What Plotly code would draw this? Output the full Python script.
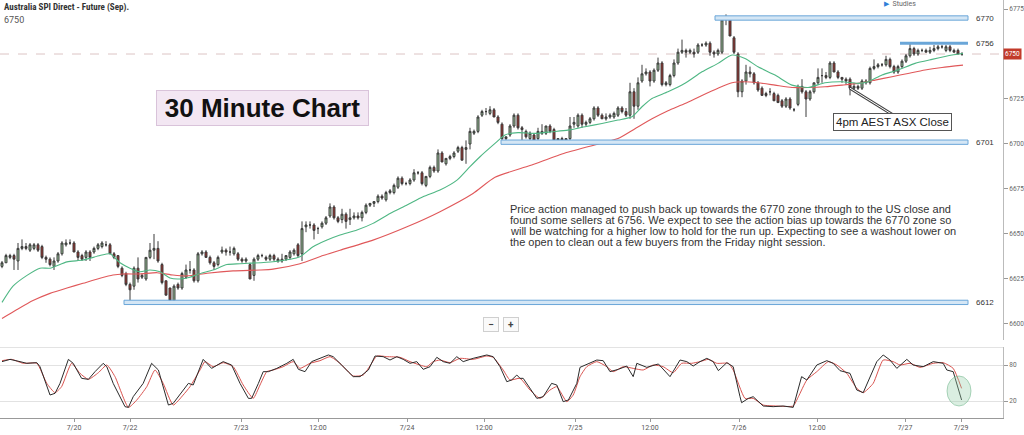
import plotly.graph_objects as go

# ---------------- DATA ----------------
candle_open = [
 6632,6634,6637,6638,6635,6642,6643,6641,6642,6644,6643,6637,6636,6632,6635,6639,6644,6645,6645,6640,
 6638,6637,6640,6640,6642,6643,6644,6644,6639,6638,6631,6628,6622,6621,6631,6626,6625,6637,6641,6642,
 6633,6624,6620,6613,6622,6620,6626,6630,6630,6624,6639,6640,6637,6634,6633,6640,6641,6640,6639,6639,
 6636,6635,6633,6627,6636,6638,6637,6636,6638,6636,6635,6636,6637,6639,6644,6639,6654,6655,6655,6653,
 6654,6656,6660,6665,6659,6658,6661,6658,6659,6660,6659,6662,6666,6667,6668,6671,6669,6673,6673,6676,
 6681,6678,6678,6680,6684,6684,6677,6682,6687,6685,6695,6689,6692,6693,6696,6698,6697,6700,6706,6707,
 6716,6718,6717,6719,6715,6711,6703,6705,6710,6716,6709,6707,6703,6705,6703,6707,6706,6710,6708,6702,
 6703,6702,6703,6711,6710,6716,6711,6712,6714,6720,6716,6714,6715,6715,6716,6720,6718,6716,6729,6721,
 6735,6739,6740,6735,6741,6745,6733,6733,6738,6745,6751,6752,6751,6751,6751,6755,6755,6756,6751,6750,
 6751,6769,6770,6759,6750,6729,6735,6740,6739,6734,6731,6728,6729,6728,6727,6724,6721,6725,6719,6722,
 6732,6729,6725,6729,6734,6738,6738,6737,6745,6740,6737,6736,6736,6731,6732,6731,6735,6734,6742,6743,
 6744,6744,6747,6743,6740,6743,6746,6749,6753,6750,6752,6752,6751,6752,6753,6754,6752,6754,6752,6752,
 6750]
candle_high = [
 6635,6639,6639,6639,6645,6647,6645,6645,6645,6645,6644,6638,6637,6637,6640,6646,6647,6647,6646,6641,
 6639,6641,6641,6643,6645,6646,6646,6645,6640,6638,6632,6629,6623,6632,6637,6628,6637,6645,6650,6646,
 6634,6624,6620,6622,6623,6629,6633,6635,6631,6640,6641,6641,6638,6635,6638,6643,6642,6643,6643,6640,
 6637,6637,6634,6637,6639,6639,6638,6639,6639,6637,6639,6638,6641,6642,6645,6657,6657,6657,6656,6654,
 6657,6660,6667,6666,6660,6664,6662,6664,6662,6662,6663,6667,6667,6668,6672,6672,6674,6675,6678,6682,
 6682,6679,6681,6686,6685,6685,6682,6688,6688,6697,6696,6692,6694,6696,6699,6699,6702,6709,6708,6716,
 6719,6720,6721,6720,6716,6712,6704,6711,6717,6717,6710,6708,6707,6706,6709,6711,6710,6711,6709,6703,
 6704,6703,6715,6715,6717,6717,6713,6715,6721,6721,6717,6717,6717,6718,6721,6721,6720,6734,6731,6737,
 6744,6742,6741,6742,6748,6746,6735,6739,6747,6753,6758,6753,6753,6753,6756,6756,6757,6757,6752,6753,
 6771,6772,6771,6760,6751,6736,6744,6743,6740,6735,6732,6729,6731,6729,6728,6725,6726,6726,6720,6733,
 6736,6730,6730,6734,6742,6742,6740,6746,6746,6741,6737,6737,6737,6734,6733,6736,6736,6743,6747,6745,
 6745,6749,6748,6744,6744,6747,6750,6756,6754,6753,6753,6753,6754,6755,6755,6755,6755,6755,6753,6753,
 6751]
candle_low = [
 6631,6634,6636,6630,6630,6641,6641,6640,6641,6640,6636,6634,6632,6630,6634,6638,6643,6644,6640,6635,
 6635,6635,6635,6639,6641,6642,6643,6639,6636,6631,6626,6621,6613,6619,6623,6625,6624,6636,6636,6634,
 6622,6616,6612,6612,6619,6619,6625,6628,6623,6623,6638,6637,6633,6630,6632,6639,6638,6638,6638,6635,
 6634,6634,6625,6624,6635,6637,6635,6635,6635,6634,6634,6635,6636,6638,6637,6635,6651,6653,6647,6650,
 6653,6655,6659,6658,6656,6656,6653,6655,6658,6658,6657,6661,6665,6665,6667,6669,6668,6672,6672,6675,
 6677,6677,6677,6679,6683,6677,6676,6681,6684,6684,6690,6688,6691,6692,6695,6691,6689,6697,6705,6706,
 6715,6716,6716,6715,6711,6702,6702,6704,6709,6708,6700,6703,6701,6701,6702,6705,6705,6706,6702,6701,
 6701,6701,6702,6709,6709,6709,6710,6711,6713,6715,6714,6713,6714,6714,6715,6717,6715,6714,6714,6719,
 6734,6738,6732,6734,6740,6732,6732,6732,6737,6744,6750,6748,6750,6748,6750,6754,6754,6749,6748,6749,
 6750,6766,6760,6750,6726,6726,6733,6737,6733,6729,6727,6726,6727,6724,6723,6720,6720,6719,6718,6721,
 6728,6715,6724,6728,6733,6734,6736,6736,6740,6736,6734,6733,6727,6730,6730,6730,6733,6733,6741,6742,
 6743,6743,6742,6739,6739,6742,6745,6748,6749,6749,6751,6751,6750,6751,6752,6753,6751,6751,6751,6750,
 6749]
candle_close = [
 6634,6638,6638,6636,6642,6643,6642,6644,6644,6641,6637,6636,6633,6635,6639,6645,6645,6645,6640,6637,
 6636,6640,6637,6642,6644,6645,6644,6639,6637,6632,6627,6622,6619,6631,6625,6627,6637,6641,6642,6635,
 6623,6616,6613,6621,6620,6628,6630,6630,6624,6639,6640,6637,6634,6632,6637,6641,6640,6640,6642,6636,
 6635,6636,6625,6636,6638,6638,6636,6638,6636,6635,6636,6638,6640,6641,6638,6653,6655,6655,6652,6653,
 6656,6659,6665,6659,6657,6661,6657,6659,6660,6659,6662,6666,6667,6668,6671,6670,6673,6674,6677,6681,
 6678,6678,6680,6684,6684,6678,6682,6687,6685,6695,6690,6692,6693,6695,6698,6691,6698,6707,6707,6715,
 6718,6718,6719,6715,6712,6703,6704,6710,6716,6709,6708,6704,6706,6702,6707,6706,6710,6707,6702,6703,
 6702,6703,6710,6712,6716,6711,6712,6714,6720,6716,6714,6715,6716,6717,6720,6718,6716,6729,6721,6734,
 6739,6740,6735,6741,6745,6733,6734,6738,6745,6751,6752,6751,6752,6750,6755,6755,6756,6751,6750,6752,
 6769,6770,6760,6751,6729,6735,6740,6739,6734,6730,6727,6727,6729,6724,6723,6721,6725,6720,6719,6732,
 6729,6725,6729,6734,6737,6738,6737,6745,6740,6737,6736,6735,6731,6732,6731,6735,6734,6742,6743,6744,
 6744,6747,6743,6740,6743,6746,6749,6753,6750,6752,6752,6751,6752,6753,6754,6754,6754,6752,6751,6750,
 6750]

# moving averages (bar index, price)
ma_fast_idx = [0,2.75,6.25,9.5,12,16.25,20.25,24.5,27,29.5,32,34.5,37,39.5,42,44.5,47,49.5,52.75,56.25,
               59.5,67.75,74.5,77.75,81.25,84.5,88.75,92.75,97,101.25,105.25,109.5,113.75,117,119.5,123.25,
               125.75,129,133.25,137.5,141.5,145.75,150,154,157.5,160,162.5,166.5,170.75,175,179,182.5,
               185.75,189,193.25,197.5,201.5,205.75,210,214,216.5,220,224,228.25,232.5,237.5,240.25]
ma_fast_val = [6612,6621,6627,6631,6631,6634.5,6635.5,6638,6639,6634,6631,6629,6630,6629,6625.5,6625,6626,
               6628,6630,6633,6633.5,6634.6,6637.4,6642.9,6646.6,6649.4,6652.2,6655.9,6661.4,6666.1,6670.7,
               6674.4,6679.9,6687.4,6692.9,6700.3,6705,6706.3,6705.9,6706.8,6707.7,6709.6,6711.4,6713.3,
               6715.1,6720.7,6725.3,6729,6733.7,6740.1,6744.8,6749.4,6747.5,6742.9,6738.3,6732.7,6731.4,
               6734,6734.6,6733.7,6734.6,6738.3,6741.1,6744.8,6747,6749.4,6750.3]
ma_slow_idx = [0,3.75,7.75,12,16.25,20.25,24.5,27.75,30.25,34.5,38.75,42.75,46.25,51.25,57.75,64.5,67.75,
               74.5,80.25,84.5,92.75,101.25,109.5,117.75,123.25,132,140.75,150,154,158.25,162.5,166.5,
               170.75,175,179,182.5,185.75,189,193.25,197.5,201.5,205.75,210,214,218.25,222.5,226.5,
               230.75,235,240.25]
ma_slow_val = [6603,6608,6613,6617,6620,6622.6,6625.4,6627.2,6627.8,6627.8,6628.5,6627.2,6626.7,6628.2,
               6629.5,6630,6630.5,6633.5,6638,6641,6646.6,6654,6662.4,6672.5,6681.5,6688,6695,6700.5,
               6703,6708.5,6714,6718.5,6722.5,6727,6731,6734,6734.6,6734,6732.7,6731.4,6731.4,6731.8,
               6732.7,6733.7,6735.5,6737.4,6739.2,6741.1,6742.5,6743.8]

# stochastic oscillator (bar index, value)
stoch_k_idx = [0,2,4.5,6.2,8.7,9.5,12,13.25,14.5,16.6,17.8,19.9,21.6,23.25,25.3,26.2,27.8,30.75,31.6,32.8,
               35.3,37.4,39.1,41.6,42.8,44.9,46.6,47.8,50.3,52.4,55.3,57.4,59.5,61.6,62.4,64.1,65.3,66.6,
               68.7,71.2,72.8,74.1,75.75,77.4,81.6,82.8,85.3,87.8,89.5,91.6,93.25,95.3,97,98.7,100.3,102,
               103.7,105.3,107,108.7,110.3,112,113.7,115.3,117.8,121.2,122.8,124.5,126.2,127.4,128.7,129.5,
               130.3,132.8,133.7,135.3,137.4,138.7,140.3,141.6,143.7,144.5,147,148.7,150.3,152,154.1,156.2,
               157.8,158.7,161.2,164.1,167,169.5,171.2,172.8,174.5,176.2,177.8,179.1,181.2,182.8,184.5,
               184.9,186.6,187.8,190.3,192.8,195.3,197.8,199.9,201.2,203.7,206.2,207.8,209.5,212,213.7,
               215.3,217,218.7,220.3,222,223.7,226.2,227.8,230.3,232.8,235.3,236.2,237.8,239.9]
stoch_k_val = [85.6,89.4,85.6,82.8,83.9,77.2,30,32.8,49.4,89.4,82.8,57.8,56.1,68.9,82.8,77.2,49.4,10.6,9.4,
               27.2,49.4,82.8,71.7,13.3,16.1,35.6,49.4,46.7,89.4,74.4,85.6,80,49.4,24.4,24.4,49.4,68.9,
               68.9,74.4,82.8,89.4,72.8,68.9,85.6,96.7,93.9,77.2,60.6,60.6,71.7,95,93.9,88.3,93.9,89.4,
               82.8,85.6,72.8,77.2,92.8,85.6,82.8,93.9,85.6,91.1,96.7,93.9,77.2,52.2,55,63.3,57.8,
               57.8,32.8,24.4,27.2,49.4,46.7,18.9,21.7,49.4,76.1,82.8,88.3,87.2,68.9,72.8,78.3,
               60.6,82.8,76.1,81.7,60.6,88.3,85.6,78.3,85.6,91.1,85.6,70.6,83.9,77.2,27.2,
               17.2,24.4,27.2,11.7,10.6,11.7,9.4,60.6,55,80,87.2,82.8,70.6,66.1,38.3,
               33.9,60.6,85.6,96.7,88.3,74.4,89.4,80,77.2,85.6,82.8,71.7,68.9,21.7]
stoch_d_idx = [0,2.4,5.3,8.7,11.2,13.25,14.9,17.4,19.5,21.6,24.1,26.2,28.25,31.6,33.7,36.2,38.25,40.3,
               42.8,45.3,47,49.5,50.75,52.8,55.3,57.8,60.3,62.8,64.5,66.2,67.8,70.3,72.8,74.5,77,79.5,
               82,84.5,87.8,90.3,92.4,93.7,96.2,99.5,102,104.5,106.2,107.8,109.5,112,114.5,117.8,121.2,
               122.8,125.3,127,129.5,132,134.5,137,138.7,141.2,142.8,144.5,146.2,148.7,151.2,152.8,
               155.3,157.8,160.3,162.8,165.3,167.8,169.9,172.4,174.5,176.6,178.7,181.6,182.8,185.75,
               187.8,190.3,193.7,197.8,199.1,201.2,203.7,206.6,208.7,211.2,213.7,215.3,217.8,220.3,
               222.8,224.5,227,229.5,232.8,235.3,237.8,239.9]
stoch_d_val = [87.2,89.4,82.8,82.8,49.4,33.9,43.9,82.8,66.1,56.1,67.2,80,60.6,9.4,21.7,43.9,71.7,49.4,
               13.3,30,43.9,71.7,85.6,77.2,83.9,77.2,46.7,24.4,46.7,68.9,71.7,77.2,85.6,74.4,82.8,87.2,
               93.9,82.8,61.7,63.3,82.8,95,93.9,92.8,85.6,80,77.2,85.6,88.3,83.9,91.1,89.4,95,
               92.8,71.7,55,57.8,38.3,24.4,38.3,43.9,18.9,30,60.6,77.2,85.6,77.2,68.9,
               77.2,74.4,71.7,80,77.2,67.2,82.8,82.8,85.6,89.4,82.8,82.8,71.7,24.4,
               24.4,13.3,11.7,11.7,27.2,55,68.9,85.6,80,66.1,41.1,33.9,49.4,88.3,
               85.6,80,82.8,76.1,82.8,83.9,74.4,41.1]

# key levels
level_values = [6770, 6756, 6701, 6612]
level_labels = ["6770", "6756", "6701", "6612"]
level_start_idx = [178.25, 224.5, 124.75, 30.5]
level_end_idx = 241.5

price_ticks = [6600, 6625, 6650, 6675, 6700, 6725, 6775]   # 6750 is shown by the red price tag
time_tick_idx = [18, 32, 59.75, 79, 101.25, 120.5, 143.25, 162, 184.25, 203.75, 225.75, 239.75]
time_tick_text = ["7/20", "7/22", "7/23", "12:00", "7/24", "12:00", "7/25", "12:00", "7/26", "12:00", "7/27", "7/29"]
last_price = 6750
close_bar_idx = 212

# ---------------- FIGURE ----------------
W, H = 1024, 435
ML, MR, MT, MB = 0, 21, 0, 17
PW, PH = W - ML - MR, H - MT - MB

def px(x):
    return x / PW

def py(y):
    return 1 - y / PH

n = len(candle_close)
idx = list(range(n))

fig = go.Figure()
fig.add_trace(go.Candlestick(
    x=idx, open=candle_open, high=candle_high, low=candle_low, close=candle_close,
    increasing=dict(fillcolor="#9cc89c", line=dict(color="#3a3a3a", width=1)),
    decreasing=dict(fillcolor="#a5302a", line=dict(color="#3a3a3a", width=1)),
    whiskerwidth=0, xaxis="x", yaxis="y", showlegend=False, hoverinfo="skip"))
fig.add_trace(go.Scatter(x=ma_slow_idx, y=ma_slow_val, mode="lines",
                         line=dict(color="#e0585a", width=1.1, shape="spline", smoothing=0.6),
                         xaxis="x", yaxis="y", showlegend=False, hoverinfo="skip"))
fig.add_trace(go.Scatter(x=ma_fast_idx, y=ma_fast_val, mode="lines",
                         line=dict(color="#4fb784", width=1.1, shape="spline", smoothing=0.6),
                         xaxis="x", yaxis="y", showlegend=False, hoverinfo="skip"))
fig.add_trace(go.Scatter(x=stoch_d_idx, y=stoch_d_val, mode="lines",
                         line=dict(color="#d9534f", width=1, shape="spline", smoothing=0.5),
                         xaxis="x2", yaxis="y2", showlegend=False, hoverinfo="skip"))
fig.add_trace(go.Scatter(x=stoch_k_idx, y=stoch_k_val, mode="lines",
                         line=dict(color="#2b2b2b", width=1),
                         xaxis="x2", yaxis="y2", showlegend=False, hoverinfo="skip"))

shapes = []
annotations = []

# dashed last-price line
shapes.append(dict(type="line", xref="paper", yref="y", x0=0, x1=1, y0=last_price, y1=last_price,
                   line=dict(color="#dcc4c4", width=1, dash="dash"), layer="below"))

# key levels
for v, lab, s in zip(level_values, level_labels, level_start_idx):
    if v == 6756:
        shapes.append(dict(type="line", xref="x", yref="y", x0=s, x1=level_end_idx, y0=v, y1=v,
                           line=dict(color="#6aa6d8", width=3)))
    else:
        shapes.append(dict(type="rect", xref="x", yref="y", x0=s, x1=level_end_idx,
                           y0=v - 1.2, y1=v + 1.2, fillcolor="#d4e6f5",
                           line=dict(color="#6aa6d8", width=1)))
    annotations.append(dict(x=243, y=v, xref="x", yref="y", text=lab, showarrow=False,
                            xanchor="left", yanchor="middle",
                            font=dict(family="Liberation Sans, Arial", size=8, color="#333")))

# stochastic panel guide line
shapes.append(dict(type="line", xref="paper", yref="y2", x0=0, x1=1, y0=110, y1=110,
                   line=dict(color="#c8c8c8", width=1)))

# green circle highlighting the last stochastic reading
shapes.append(dict(type="circle", xref="x2", yref="y2", x0=236.25, x1=242.25, y0=11.7, y1=61.7,
                   fillcolor="rgba(150,205,170,0.35)", line=dict(color="rgba(120,185,145,0.6)", width=1)))

# arrow to the 4pm close candle (double line look)
ax_end_idx, ax_end_price = 222.5, 6716.5
shapes.append(dict(type="line", xref="x", yref="y", x0=close_bar_idx, y0=6731, x1=ax_end_idx, y1=ax_end_price,
                   line=dict(color="#444", width=3)))
shapes.append(dict(type="line", xref="x", yref="y", x0=close_bar_idx, y0=6731, x1=ax_end_idx, y1=ax_end_price,
                   line=dict(color="#ffffff", width=1)))

# title
annotations.append(dict(x=px(2), y=py(7), xref="paper", yref="paper", xanchor="left", yanchor="middle",
                        text="<b>Australia SPI Direct - Future (Sep).</b>", showarrow=False,
                        font=dict(family="Roboto Condensed, Liberation Sans Narrow, DejaVu Sans Condensed, Roboto",
                                  size=9, color="#333")))
annotations.append(dict(x=px(2), y=py(20), xref="paper", yref="paper", xanchor="left", yanchor="middle",
                        text="6750", showarrow=False,
                        font=dict(family="Roboto", size=9, color="#555")))
annotations.append(dict(x=px(882), y=py(4), xref="paper", yref="paper", xanchor="left", yanchor="middle",
                        text="<span style='color:#2f7fd8'>▶</span>  Studies", showarrow=False,
                        font=dict(family="Roboto", size=7, color="#666")))

# 30 minute chart label
annotations.append(dict(x=px(262), y=py(108), xref="paper", yref="paper", xanchor="center", yanchor="middle",
                        text="<b>30 Minute Chart</b>", showarrow=False, width=205, height=28,
                        bgcolor="#f3e7f3", bordercolor="#d9c3da", borderwidth=1, borderpad=3,
                        font=dict(family="Liberation Sans, Arial", size=26, color="#111")))

# commentary
comment_lines = [
    "Price action managed to push back up towards the 6770 zone through to the US close and",
    "found some sellers at 6756. We expect to see the action bias up towards the 6770 zone so",
    "will be watching for a higher low to hold for the run up. Expecting to see a washout lower on",
    "the open to clean out a few buyers from the Friday night session.",
]
for k, line in enumerate(comment_lines):
    annotations.append(dict(x=px(508), y=py(209 + 11 * k), xref="paper", yref="paper",
                            xanchor="left", yanchor="middle", text=line, showarrow=False,
                            font=dict(family="Liberation Sans, Arial", size=11, color="#333")))

# 4pm AEST ASX close label
annotations.append(dict(x=px(892), y=py(122), xref="paper", yref="paper", xanchor="center", yanchor="middle",
                        text="4pm AEST ASX Close", showarrow=False, bgcolor="#ffffff",
                        bordercolor="#555", borderwidth=1, borderpad=2,
                        font=dict(family="Liberation Sans, Arial", size=11.5, color="#222")))

# last price tag on the axis
annotations.append(dict(x=1.0, y=last_price, xref="paper", yref="y", xanchor="left", yanchor="middle",
                        text="6750", showarrow=False, bgcolor="#c23a2a", borderpad=1,
                        font=dict(family="Roboto", size=6.5, color="#ffffff")))

# zoom buttons
for xb, sym in [(491, "−"), (511, "+")]:
    annotations.append(dict(x=px(xb), y=py(324), xref="paper", yref="paper", xanchor="center", yanchor="middle",
                            text="<b>%s</b>" % sym, showarrow=False, bgcolor="#fafafa",
                            bordercolor="#cfcfcf", borderwidth=1, borderpad=1, width=12, height=11,
                            font=dict(family="Roboto", size=10, color="#444")))

fig.update_layout(
    width=W, height=H,
    margin=dict(l=ML, r=MR, t=MT, b=MB),
    paper_bgcolor="#ffffff", plot_bgcolor="#ffffff",
    showlegend=False, hovermode=False,
    shapes=shapes, annotations=annotations,
    xaxis=dict(domain=[0, 1], range=[-0.5, 250.25], anchor="y", showticklabels=False,
               showgrid=False, zeroline=False, showline=False, rangeslider=dict(visible=False), fixedrange=True),
    xaxis2=dict(domain=[0, 1], range=[-0.5, 250.25], anchor="y2", matches="x",
                tickmode="array", tickvals=time_tick_idx, ticktext=time_tick_text,
                ticks="outside", ticklen=3, tickcolor="#999", showgrid=False, zeroline=False,
                showline=True, linecolor="#999", linewidth=1,
                tickfont=dict(family="Roboto", size=7, color="#555")),
    yaxis=dict(domain=[1 - 340 / PH, 1], range=[6591.1, 6780], side="right", anchor="x",
               tickmode="array", tickvals=price_ticks, ticks="outside", ticklen=4, tickcolor="#999",
               showgrid=False, zeroline=False, showline=True, linecolor="#bbb", linewidth=1,
               tickfont=dict(family="Roboto", size=6.5, color="#666")),
    yaxis2=dict(domain=[0, 71 / PH], range=[-8.3, 110], side="right", anchor="x2",
                tickmode="array", tickvals=[20, 80], ticks="outside", ticklen=4, tickcolor="#999",
                showgrid=True, gridcolor="#e2e2e2", gridwidth=1, zeroline=False,
                showline=True, linecolor="#bbb", linewidth=1,
                tickfont=dict(family="Roboto", size=6.5, color="#666")),
)

fig.write_html("out.html", config={"displayModeBar": False},
               post_script="document.body.style.margin='0';document.body.style.padding='0';")
